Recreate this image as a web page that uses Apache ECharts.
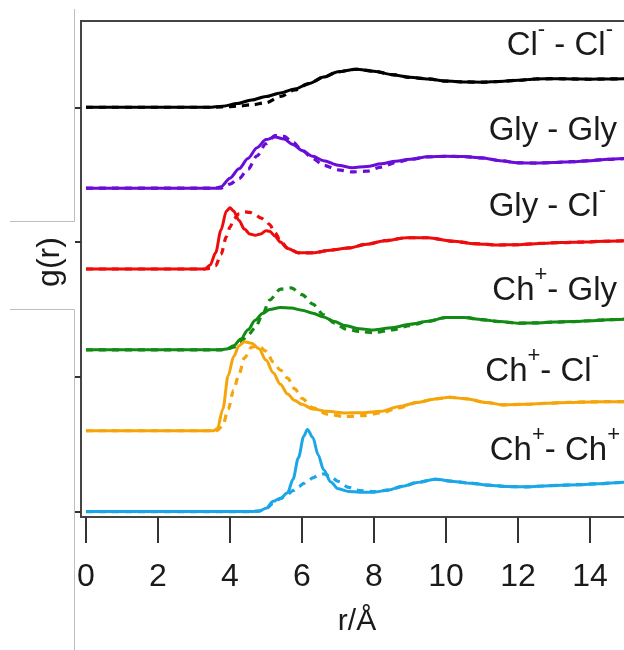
<!DOCTYPE html>
<html><head><meta charset="utf-8">
<script src="https://cdn.jsdelivr.net/npm/echarts@6/dist/echarts.min.js"></script>
<style>html,body{margin:0;padding:0;background:#fff}#c{width:624px;height:650px}</style>
</head><body><div id="c"></div>
<script>
// tick labels
const xTicks = [0, 2, 4, 6, 8, 10, 12, 14];
const yTicks = [0, 5, 10, 15];

// vertical offsets of the stacked g(r) curves
const offsets = [15, 12, 9, 6, 3, 0];

// Cl- - Cl-
const clcl_r = [0, 3.4, 3.8, 4.2, 4.6, 5.0, 5.4, 5.8, 6.2, 6.6, 7.0, 7.5, 8.0, 8.5, 9.0, 9.5, 10.0, 10.5, 11.0, 11.5, 12.0, 12.5, 13.0, 13.5, 14.0, 14.5, 15.0];
const clcl_solid = [0, 0, 0.04, 0.14, 0.27, 0.4, 0.53, 0.68, 0.88, 1.12, 1.32, 1.41, 1.34, 1.21, 1.11, 1.05, 0.97, 0.94, 0.93, 0.96, 1.0, 1.05, 1.06, 1.05, 1.04, 1.05, 1.06];
const clcl_dashed = [0, 0, 0.01, 0.04, 0.09, 0.17, 0.4, 0.64, 0.88, 1.12, 1.32, 1.41, 1.34, 1.21, 1.11, 1.05, 0.97, 0.94, 0.93, 0.96, 1.0, 1.05, 1.06, 1.05, 1.04, 1.05, 1.06];

// Gly - Gly
const glygly_r = [0, 3.6, 3.75, 4.0, 4.25, 4.5, 4.75, 5.0, 5.25, 5.5, 5.75, 6.0, 6.3, 6.6, 7.0, 7.4, 7.8, 8.2, 8.6, 9.0, 9.5, 10.0, 10.5, 11.0, 11.5, 12.0, 12.5, 13.0, 13.5, 14.0, 14.5, 15.0];
const glygly_solid = [0, 0, 0.05, 0.37, 0.72, 1.1, 1.5, 1.8, 1.9, 1.82, 1.62, 1.4, 1.18, 1.02, 0.85, 0.76, 0.8, 0.9, 1.0, 1.07, 1.16, 1.18, 1.17, 1.12, 1.02, 0.94, 0.93, 0.95, 0.98, 1.02, 1.07, 1.1];
const glygly_dashed = [0, 0, 0, 0.15, 0.35, 0.7, 1.2, 1.65, 1.95, 1.92, 1.7, 1.4, 1.1, 0.85, 0.68, 0.6, 0.63, 0.78, 0.95, 1.07, 1.16, 1.18, 1.17, 1.12, 1.02, 0.94, 0.93, 0.95, 0.98, 1.02, 1.07, 1.1];

// Gly - Cl-
const glycl_r = [0, 3.3, 3.45, 3.6, 3.75, 3.9, 4.0, 4.1, 4.25, 4.4, 4.55, 4.7, 4.85, 5.0, 5.1, 5.25, 5.4, 5.6, 5.9, 6.3, 6.8, 7.3, 7.8, 8.3, 8.9, 9.5, 10.2, 10.8, 11.4, 12.0, 12.6, 13.2, 13.8, 14.4, 15.0];
const glycl_solid = [0, 0, 0.15, 0.6, 1.45, 2.15, 2.27, 2.15, 1.8, 1.48, 1.3, 1.25, 1.3, 1.42, 1.4, 1.22, 1.0, 0.76, 0.6, 0.6, 0.7, 0.78, 0.92, 1.05, 1.16, 1.16, 1.03, 0.94, 0.89, 0.9, 0.95, 0.98, 1.0, 1.03, 1.05];
const glycl_dashed = [0, 0, 0.02, 0.12, 0.55, 1.2, 1.55, 1.85, 2.05, 2.12, 2.1, 2.02, 1.9, 1.78, 1.65, 1.35, 1.05, 0.78, 0.6, 0.6, 0.7, 0.78, 0.92, 1.05, 1.16, 1.16, 1.03, 0.94, 0.89, 0.9, 0.95, 0.98, 1.0, 1.03, 1.05];

// Ch+ - Gly
const chgly_r = [0, 3.7, 3.9, 4.1, 4.3, 4.5, 4.7, 4.9, 5.1, 5.4, 5.7, 6.0, 6.3, 6.6, 6.9, 7.2, 7.6, 8.0, 8.5, 9.0, 9.5, 10.0, 10.5, 11.0, 11.5, 12.0, 12.5, 13.0, 13.5, 14.0, 14.5, 15.0];
const chgly_solid = [0, 0, 0.03, 0.15, 0.4, 0.75, 1.1, 1.35, 1.5, 1.57, 1.55, 1.47, 1.36, 1.22, 1.05, 0.9, 0.78, 0.74, 0.82, 0.95, 1.06, 1.2, 1.2, 1.12, 1.05, 0.99, 1.0, 1.03, 1.05, 1.08, 1.12, 1.14];
const chgly_dashed = [0, 0, 0.02, 0.1, 0.3, 0.55, 0.82, 1.3, 1.85, 2.25, 2.3, 2.05, 1.7, 1.3, 1.0, 0.78, 0.68, 0.64, 0.74, 0.9, 1.06, 1.2, 1.2, 1.12, 1.05, 0.99, 1.0, 1.03, 1.05, 1.08, 1.12, 1.14];

// Ch+ - Cl-
const chcl_r = [0, 3.55, 3.65, 3.8, 3.95, 4.1, 4.25, 4.4, 4.6, 4.8, 5.0, 5.2, 5.4, 5.6, 5.8, 6.0, 6.3, 6.7, 7.2, 7.7, 8.2, 8.7, 9.2, 9.7, 10.1, 10.6, 11.1, 11.6, 12.2, 12.8, 13.4, 14.0, 14.5, 15.0];
const chcl_solid = [0, 0, 0.08, 0.8, 2.05, 2.75, 3.15, 3.3, 3.25, 3.05, 2.62, 2.15, 1.72, 1.36, 1.12, 0.98, 0.81, 0.72, 0.66, 0.67, 0.72, 0.9, 1.05, 1.18, 1.24, 1.18, 1.05, 0.96, 0.98, 1.02, 1.05, 1.07, 1.08, 1.08];
const chcl_dashed = [0, 0, 0.01, 0.2, 0.8, 1.5, 2.1, 2.7, 3.1, 3.15, 2.95, 2.55, 2.25, 1.95, 1.55, 1.2, 0.85, 0.62, 0.52, 0.56, 0.66, 0.85, 1.05, 1.18, 1.24, 1.18, 1.05, 0.96, 0.98, 1.02, 1.05, 1.07, 1.08, 1.08];

// Ch+ - Ch+
const chch_r = [0, 4.6, 4.8, 5.0, 5.2, 5.4, 5.6, 5.75, 5.9, 6.05, 6.15, 6.3, 6.45, 6.6, 6.8, 7.0, 7.3, 7.6, 8.0, 8.4, 8.8, 9.2, 9.7, 10.2, 10.7, 11.2, 11.7, 12.2, 12.7, 13.2, 13.7, 14.2, 14.7, 15.0];
const chch_solid = [0, 0, 0.02, 0.12, 0.38, 0.5, 0.7, 1.2, 2.0, 2.8, 3.05, 2.75, 2.1, 1.55, 1.1, 0.85, 0.75, 0.72, 0.72, 0.8, 0.94, 1.08, 1.2, 1.12, 1.05, 0.98, 0.93, 0.92, 0.95, 0.98, 1.0, 1.03, 1.07, 1.09];
const chch_dashed = [0, 0, 0.02, 0.1, 0.3, 0.48, 0.65, 0.78, 0.92, 1.05, 1.14, 1.25, 1.34, 1.4, 1.3, 1.12, 0.9, 0.78, 0.74, 0.8, 0.94, 1.08, 1.2, 1.12, 1.05, 0.98, 0.93, 0.92, 0.95, 0.98, 1.0, 1.03, 1.07, 1.09];

const pairNames = ['Cl- - Cl-', 'Gly - Gly', 'Gly - Cl-', 'Ch+ - Gly', 'Ch+ - Cl-', 'Ch+ - Ch+'];
const pairColors = ['#000000', '#6a0dd8', '#ec0c0c', '#138a13', '#f5a50a', '#1ba6e8'];
const pairR = [clcl_r, glygly_r, glycl_r, chgly_r, chcl_r, chch_r];
const pairSolid = [clcl_solid, glygly_solid, glycl_solid, chgly_solid, chcl_solid, chch_solid];
const pairDashed = [clcl_dashed, glygly_dashed, glycl_dashed, chgly_dashed, chcl_dashed, chch_dashed];
const pairLabels = [
  '{n|Cl}{s|-}{n| - Cl}{s|-}',
  '{n|Gly - Gly}',
  '{n|Gly - Cl}{s|-}',
  '{n|Ch}{s|+}{n|- Gly}',
  '{n|Ch}{s|+}{n|- Cl}{s|-}',
  '{n|Ch}{s|+}{n|- Ch}{s|+}'
];

const FONT = '"Liberation Sans", Arial, sans-serif';
const chart = echarts.init(document.getElementById('c'), null, {renderer: 'canvas'});

const series = [];
pairNames.forEach((nm, k) => {
  const mk = (vals, dashed) => ({
    name: nm + (dashed ? ' (dashed)' : ''),
    type: 'line',
    data: pairR[k].map((r, i) => [r, vals[i] + offsets[k]]),
    showSymbol: false,
    smooth: 0.3,
    smoothMonotone: 'x',
    clip: true,
    z: 2,
    lineStyle: {color: pairColors[k], width: dashed ? 3.2 : 3, type: dashed ? [7, 6] : 'solid', cap: 'butt'},
    animation: false,
    silent: true
  });
  series.push(mk(pairDashed[k], true));
  series.push(mk(pairSolid[k], false));
});

const labelPos = [[613, 46], [617, 131], [606, 207], [617, 291], [599, 372], [620, 451]];
const richStyle = {
  n: {fontSize: 33, fontFamily: FONT, fill: '#1a1a1a', lineHeight: 54},
  s: {fontSize: 22, fontFamily: FONT, fill: '#1a1a1a', lineHeight: 20, verticalAlign: 'top'}
};
const graphics = pairLabels.map((t, k) => ({
  type: 'text', x: labelPos[k][0], y: labelPos[k][1], z: 10,
  style: {text: t, rich: richStyle, align: 'right', verticalAlign: 'middle'}
}));
const gray = {stroke: '#bdbdbd', lineWidth: 1};
graphics.push(
  {type: 'line', shape: {x1: 74.5, y1: 9, x2: 74.5, y2: 221.5}, style: gray},
  {type: 'line', shape: {x1: 10, y1: 221.5, x2: 74.5, y2: 221.5}, style: gray},
  {type: 'line', shape: {x1: 10, y1: 309.5, x2: 74.5, y2: 309.5}, style: gray},
  {type: 'line', shape: {x1: 74.5, y1: 309.5, x2: 74.5, y2: 650}, style: gray},
  {type: 'text', x: 50, y: 262, rotation: Math.PI / 2,
   style: {text: 'g(r)', fontSize: 32, fontFamily: FONT, fill: '#1a1a1a', align: 'center', verticalAlign: 'middle'}},
  {type: 'text', x: 357, y: 622,
   style: {text: 'r/Å', fontSize: 30, fontFamily: FONT, fill: '#1a1a1a', align: 'center', verticalAlign: 'middle'}}
);

chart.setOption({
  animation: false,
  backgroundColor: '#ffffff',
  grid: {left: 81, top: 21, right: -20, bottom: 133, show: true, borderColor: '#444', borderWidth: 2,
         containLabel: false, outerBoundsMode: 'none'},
  xAxis: {
    type: 'value', min: -0.139, max: 15.5,
    axisLine: {show: true, onZero: false, lineStyle: {color: '#444', width: 2}},
    axisTick: {show: true, customValues: xTicks, length: 26, inside: false, lineStyle: {color: '#333', width: 2}},
    axisLabel: {show: true, customValues: xTicks, fontSize: 32, fontFamily: FONT, color: '#1a1a1a', margin: 44},
    splitLine: {show: false}
  },
  yAxis: {
    type: 'value', min: -0.2, max: 18.2,
    axisLine: {show: true, onZero: false, lineStyle: {color: '#444', width: 2}},
    axisTick: {show: true, customValues: yTicks, length: 6, inside: false, lineStyle: {color: '#333', width: 2}},
    axisLabel: {show: false},
    splitLine: {show: false}
  },
  series: series,
  graphic: graphics
});
</script>
</body></html>
